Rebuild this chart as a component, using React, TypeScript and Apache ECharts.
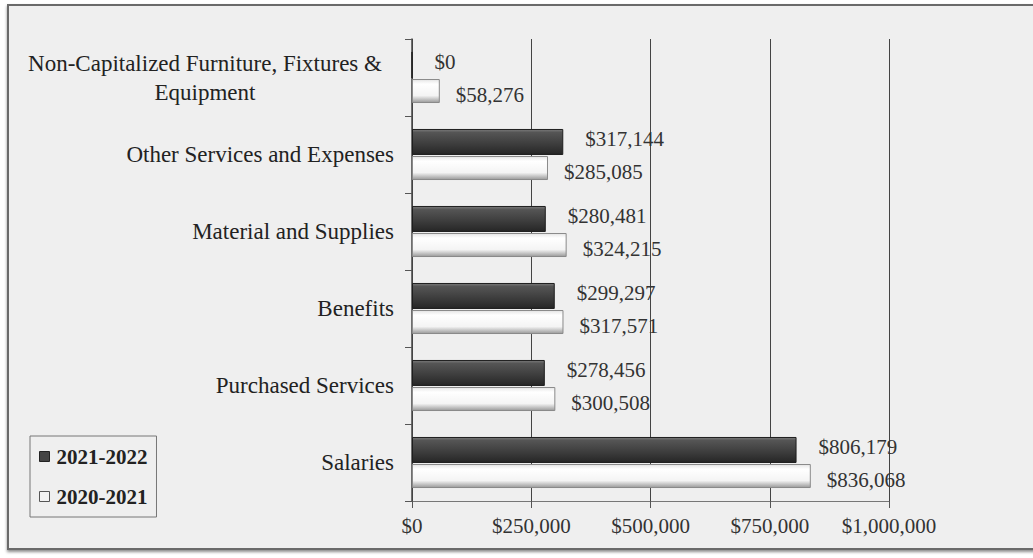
import React, { useEffect, useRef } from "react";
import * as echarts from "echarts";

const categories = [
  "Salaries",
  "Purchased Services",
  "Benefits",
  "Material and Supplies",
  "Other Services and Expenses",
  "Non-Capitalized Furniture, Fixtures &\nEquipment",
];
const values2021_2022 = [806179, 278456, 299297, 280481, 317144, 0];
const values2020_2021 = [836068, 300508, 317571, 324215, 285085, 58276];
const seriesNames = ["2021-2022", "2020-2021"];
const xMin = 0;
const xMax = 1000000;
const xInterval = 250000;

const FONT = "'Liberation Serif', 'Times New Roman', serif";
const money = (v: number) => "$" + Number(v).toLocaleString("en-US");

export default function App() {
  const ref = useRef<HTMLDivElement>(null);
  useEffect(() => {
    const chart = echarts.init(ref.current!, null, { renderer: "svg" });
    const darkGrad = new echarts.graphic.LinearGradient(0, 0, 0, 1, [
      { offset: 0, color: "#7a7a7a" },
      { offset: 0.12, color: "#555555" },
      { offset: 0.6, color: "#3c3c3c" },
      { offset: 1, color: "#262626" },
    ]);
    const lightGrad = new echarts.graphic.LinearGradient(0, 0, 0, 1, [
      { offset: 0, color: "#e6e6e6" },
      { offset: 0.2, color: "#ffffff" },
      { offset: 0.7, color: "#f4f4f4" },
      { offset: 1, color: "#9a9a9a" },
    ]);
    chart.setOption({
      animation: false,
      textStyle: { fontFamily: FONT },
      graphic: [
        {
          type: "rect",
          z: -10,
          shape: { x: 8, y: 5, width: 1040, height: 544 },
          style: {
            fill: "#efefef",
            stroke: "#6a6a6a",
            lineWidth: 2,
            shadowBlur: 3,
            shadowOffsetY: 2,
            shadowColor: "rgba(0,0,0,0.45)",
          },
        },
      ],
      grid: { left: 412, right: 144, top: 39, bottom: 57, containLabel: false },
      legend: {
        orient: "vertical",
        left: 30,
        top: 436,
        data: [
          { name: seriesNames[0], itemStyle: { color: "#444", borderColor: "#222", borderWidth: 1 } },
          { name: seriesNames[1], itemStyle: { color: "#f2f2f2", borderColor: "#555", borderWidth: 1 } },
        ],
        icon: "rect",
        itemWidth: 10,
        itemHeight: 10,
        itemGap: 19,
        padding: [10, 9, 10, 9],
        borderColor: "#777",
        borderWidth: 1,
        backgroundColor: "#efefef",
        textStyle: { fontFamily: FONT, fontSize: 21, fontWeight: "bold", color: "#222", padding: [0, 0, 0, 2] },
      },
      xAxis: {
        type: "value",
        min: xMin,
        max: xMax,
        interval: xInterval,
        axisLine: { show: true, lineStyle: { color: "#777", width: 1 } },
        axisTick: { show: true, length: 7, lineStyle: { color: "#555" } },
        splitLine: { show: true, lineStyle: { color: "#444", width: 1 } },
        axisLabel: {
          formatter: (v: number) => money(v),
          fontFamily: FONT,
          fontSize: 21,
          color: "#333",
          margin: 14,
        },
      },
      yAxis: {
        type: "category",
        data: categories,
        axisLine: { show: true, lineStyle: { color: "#444", width: 1.5 } },
        axisTick: { show: true, length: 7, lineStyle: { color: "#555" } },
        axisLabel: {
          fontFamily: FONT,
          fontSize: 23,
          color: "#222",
          margin: 18,
          lineHeight: 29,
          formatter: (v: string) =>
            v.indexOf("\n") >= 0
              ? v
                  .split("\n")
                  .map((s) => "{c|" + s + "}")
                  .join("\n")
              : v,
          rich: {
            c: { width: 378, align: "center", fontSize: 23, fontFamily: FONT, color: "#222", lineHeight: 29 },
          },
        },
      },
      series: [
        {
          name: seriesNames[0],
          type: "bar",
          data: values2021_2022,
          barWidth: 26,
          barGap: "4%",
          barCategoryGap: "34%",
          itemStyle: { color: darkGrad, borderColor: "#1e1e1e", borderWidth: 1 },
          label: {
            show: true,
            position: "right",
            distance: 22,
            offset: [0, -3],
            formatter: (p: any) => money(p.value),
            fontFamily: FONT,
            fontSize: 21,
            color: "#333",
          },
        },
        {
          name: seriesNames[1],
          type: "bar",
          data: values2020_2021,
          barWidth: 24,
          barGap: "4%",
          barCategoryGap: "34%",
          itemStyle: { color: lightGrad, borderColor: "#8a8a8a", borderWidth: 1 },
          label: {
            show: true,
            position: "right",
            distance: 16,
            offset: [0, 4],
            formatter: (p: any) => money(p.value),
            fontFamily: FONT,
            fontSize: 21,
            color: "#333",
          },
        },
      ],
    });
    return () => chart.dispose();
  }, []);
  return (
    <div style={{ position: "fixed", left: 0, top: 0, width: 1033, height: 558, background: "#fff" }}>
      <div ref={ref} style={{ width: 1033, height: 558 }} />
    </div>
  );
}
